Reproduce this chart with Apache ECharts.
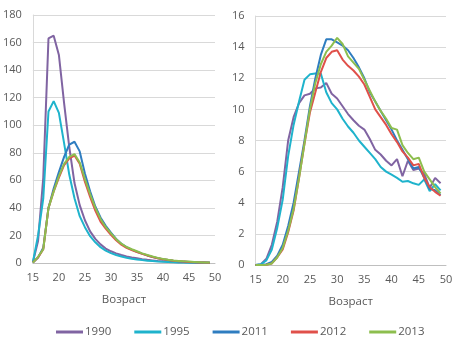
<!DOCTYPE html>
<html><head><meta charset="utf-8">
<script src="https://cdn.jsdelivr.net/npm/echarts@6/dist/echarts.min.js"></script>
<style>html,body{margin:0;padding:0;background:#fff}#c{width:462px;height:349px}</style>
</head><body><div id="c"></div>
<script>
const ages = [15,16,17,18,19,20,21,22,23,24,25,26,27,28,29,30,31,32,33,34,35,36,37,38,39,40,41,42,43,44,45,46,47,48,49];
const seriesNames = ['1990','1995','2011','2012','2013'];
const colors = ['#8064A2','#1FB3CC','#2F7DC0','#E0504A','#8DBE4E'];
const xTicks = [15,20,25,30,35,40,45,50];
const leftYTicks = [0,20,40,60,80,100,120,140,160,180];
const rightYTicks = [0,2,4,6,8,10,12,14,16];

const left1990 = [0.5,16,62,163,165,151,116,84,58,42,31,23,17.5,13.5,10.5,8.5,7,5.8,4.8,4,3.4,2.8,2.3,1.9,1.5,1.2,1,0.8,0.6,0.5,0.4,0.3,0.2,0.15,0.1];
const left1995 = [0.5,20,47,110,117.5,109,87,64,47,34,26,19.5,15,11.5,9,7.2,5.8,4.7,3.8,3.1,2.6,2.1,1.7,1.4,1.1,0.9,0.7,0.5,0.4,0.3,0.25,0.2,0.15,0.1,0.1];
const left2011 = [0.3,4,11,40,54,66,77,86,88,81,65,52,41,33,27,22,17.5,14,11.5,9.7,8.2,6.8,5.5,4.4,3.5,2.7,2.1,1.6,1.3,1.0,0.8,0.6,0.4,0.3,0.2];
const left2012 = [0.3,4,10,40,52,62,71,76,78,72,59,48,38,30,25,20.5,16.5,13.3,11,9.4,8,6.6,5.4,4.3,3.4,2.7,2.1,1.6,1.3,1.0,0.8,0.6,0.4,0.3,0.2];
const left2013 = [0.3,4.5,10,40,52,63,72,77,79,73,61,50,40,32,26,21.5,17.3,14,11.6,10,8.5,7.0,5.8,4.7,3.7,3.0,2.3,1.8,1.5,1.2,1.0,0.8,0.6,0.4,0.3];

const right1990 = [0,0.05,0.4,1.3,2.8,5.0,8.0,9.5,10.4,10.9,11.0,11.35,11.4,11.7,11.0,10.7,10.2,9.7,9.3,8.95,8.7,8.1,7.4,7.1,6.7,6.4,6.8,5.7,6.7,6.1,6.2,5.85,4.95,5.6,5.25];
const right1995 = [0,0.05,0.3,1.0,2.4,4.2,7.0,9.0,10.5,11.9,12.25,12.3,12.3,11.1,10.4,10.0,9.4,8.9,8.5,8.0,7.6,7.2,6.8,6.3,6.0,5.8,5.6,5.35,5.4,5.25,5.15,5.5,4.75,5.2,4.8];
const right2011 = [0,0,0.05,0.2,0.6,1.3,2.5,4.0,6.0,8.0,10.2,12.0,13.5,14.5,14.5,14.3,14.1,13.8,13.3,12.7,12.0,11.1,10.5,9.9,9.3,8.7,8.0,7.4,6.8,6.2,6.3,5.6,4.9,4.8,4.5];
const right2012 = [0,0,0.02,0.1,0.5,1.0,2.1,3.5,5.6,7.8,9.8,11.1,12.4,13.3,13.7,13.8,13.2,12.8,12.5,12.1,11.6,10.8,10.0,9.5,9.0,8.4,7.9,7.3,6.9,6.4,6.5,5.6,5.0,4.7,4.45];
const right2013 = [0,0,0.02,0.1,0.5,1.1,2.2,3.6,5.6,7.8,10.0,11.7,12.9,13.7,14.1,14.6,14.2,13.4,13.0,12.6,11.9,11.2,10.5,9.9,9.4,8.8,8.7,7.7,7.2,6.8,6.9,6.0,5.5,5.0,4.6];

const leftData = [left1990,left1995,left2011,left2012,left2013];
const rightData = [right1990,right1995,right2011,right2012,right2013];

const txt = '#595959';
const font = 'Open Sans';
function xAxis(gi){
  return {type:'value', gridIndex:gi, min:xTicks[0], max:xTicks[xTicks.length-1], interval:5,
    name:'Возраст', nameLocation:'middle', nameGap:31,
    nameTextStyle:{color:txt,fontSize:11.5,fontFamily:font},
    axisLine:{show:true,lineStyle:{color:'#BFBFBF',width:1}}, axisTick:{show:false},
    splitLine:{show:false},
    axisLabel:{color:txt,fontSize:11,fontFamily:font,margin:9}};
}
function yAxis(gi,ticks){
  return {type:'value', gridIndex:gi, min:ticks[0], max:ticks[ticks.length-1], interval:ticks[1]-ticks[0],
    axisLine:{show:true,lineStyle:{color:'#D9D9D9',width:1}}, axisTick:{show:false},
    splitLine:{show:true,lineStyle:{color:'#D9D9D9',width:1}},
    axisLabel:{color:txt,fontSize:11,fontFamily:font,margin:11}};
}
const series = [];
seriesNames.forEach((n,i)=>{
  series.push({name:n,type:'line',xAxisIndex:0,yAxisIndex:0,showSymbol:false,symbol:'none',
    data:ages.map((a,k)=>[a,leftData[i][k]]),lineStyle:{width:2,color:colors[i]},itemStyle:{color:colors[i]},animation:false});
  series.push({name:n,type:'line',xAxisIndex:1,yAxisIndex:1,showSymbol:false,symbol:'none',
    data:ages.map((a,k)=>[a,rightData[i][k]]),lineStyle:{width:2,color:colors[i]},itemStyle:{color:colors[i]},animation:false});
});
const chart = echarts.init(document.getElementById('c'),null,{renderer:'canvas'});
chart.setOption({
  animation:false,
  backgroundColor:'#fff',
  grid:[{left:32,top:15,width:183,height:248,containLabel:false},{left:255.5,top:16,width:190.5,height:249,containLabel:false}],
  xAxis:[xAxis(0),xAxis(1)],
  yAxis:[yAxis(0,leftYTicks),yAxis(1,rightYTicks)],
  legend:{data:seriesNames,left:51,top:321,itemGap:23,itemWidth:27,itemHeight:3,icon:'rect',
    textStyle:{color:txt,fontSize:11.5,fontFamily:font,padding:[0,0,0,-3]}},
  series:series
});
</script></body></html>
